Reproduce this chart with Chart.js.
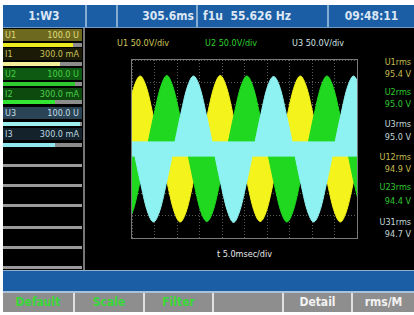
<!DOCTYPE html>
<html>
<head>
<meta charset="utf-8">
<script src="https://cdn.jsdelivr.net/npm/chart.js@4.4.1/dist/chart.umd.min.js"></script>
<style>
body{margin:0;background:#fff;width:414px;height:315px;overflow:hidden;position:relative;
  font-family:"Liberation Sans Narrow","DejaVu Sans Condensed","Liberation Sans",sans-serif;}
.a{position:absolute;white-space:nowrap;}
#scr{left:3px;top:5px;width:411px;height:307px;background:#000;}
#top{left:3px;top:5px;width:411px;height:22px;background:#1b5ea5;border-bottom:1px solid #6f9cc8;}
.tc{top:5px;height:22px;line-height:22px;color:#dbe7f4;font-size:12px;font-weight:bold;}
.vl{width:2px;background:#86acd2;}
.row{left:3px;width:79px;height:12px;line-height:12px;font-size:9px;padding-left:2px;box-sizing:border-box;}
.row span{position:absolute;right:3px;}
.sep{left:3px;width:79px;height:4px;background:#8c8c8c;}
.hdr{top:38px;font-size:9px;line-height:11px;}
.rl{left:370px;width:41px;text-align:right;font-size:9px;line-height:11px;}
.key{top:293px;height:19px;line-height:19px;font-size:12px;font-weight:bold;text-align:center;}
</style>
</head>
<body>
<div class="a" id="scr"></div>

<!-- top status bar -->
<div class="a" id="top"></div>
<div class="a vl" style="left:85px;top:5px;height:22px"></div>
<div class="a vl" style="left:116px;top:5px;height:22px"></div>
<div class="a vl" style="left:196px;top:5px;height:22px"></div>
<div class="a vl" style="left:327px;top:5px;height:22px"></div>
<div class="a tc" style="left:3px;width:82px;text-align:center">1:W3</div>
<div class="a tc" style="left:118px;width:76px;text-align:right">305.6ms</div>
<div class="a tc" style="left:203px">f1u&nbsp;&nbsp;55.626 Hz</div>
<div class="a tc" style="left:329px;width:85px;text-align:center">09:48:11</div>

<!-- left range panel -->
<div class="a" style="left:83px;top:28px;width:2px;height:242px;background:#777"></div>
<div class="a row" style="top:29px;background:#6d6a20;color:#e2dc7a">U1<span>100.0 U</span></div>
<div class="a sep" style="top:43px"></div><div class="a" style="left:3px;top:43px;width:70px;height:4px;background:#eaea1e"></div>
<div class="a row" style="top:48px;background:#1b1a06;color:#c9c25a">I1<span>300.0 mA</span></div>
<div class="a sep" style="top:62px"></div><div class="a" style="left:3px;top:62px;width:57px;height:4px;background:#f2ee9a"></div>
<div class="a row" style="top:68px;background:#0f5a12;color:#45d045">U2<span>100.0 U</span></div>
<div class="a sep" style="top:82px"></div><div class="a" style="left:3px;top:82px;width:72px;height:4px;background:#2fc82f"></div>
<div class="a row" style="top:88px;background:#0c4a0e;color:#4bd04b">I2<span>300.0 mA</span></div>
<div class="a sep" style="top:100px"></div><div class="a" style="left:3px;top:100px;width:52px;height:4px;background:#33e633"></div>
<div class="a row" style="top:107px;background:#2a4456;color:#c6dde6">U3<span>100.0 U</span></div>
<div class="a sep" style="top:122px"></div><div class="a" style="left:3px;top:122px;width:77px;height:4px;background:#9ef0f0"></div>
<div class="a row" style="top:128px;background:#14222b;color:#bcd6e0">I3<span>300.0 mA</span></div>
<div class="a sep" style="top:143px"></div><div class="a" style="left:3px;top:143px;width:52px;height:4px;background:#8fe6ee"></div>
<div class="a sep" style="top:164px;height:3px;background:#9a9a9a"></div>
<div class="a sep" style="top:184px;height:3px;background:#9a9a9a"></div>
<div class="a sep" style="top:204px;height:3px;background:#9a9a9a"></div>
<div class="a sep" style="top:226px;height:3px;background:#9a9a9a"></div>
<div class="a sep" style="top:246px;height:3px;background:#9a9a9a"></div>
<div class="a sep" style="top:266px;height:3px;background:#9a9a9a"></div>

<!-- waveform header -->
<div class="a hdr" style="left:117px;color:#cfc75a">U1 50.0V/div</div>
<div class="a hdr" style="left:205px;color:#2fcf2f">U2 50.0V/div</div>
<div class="a hdr" style="left:292px;color:#cfe2e2">U3 50.0V/div</div>

<!-- plot area -->
<div class="a" style="left:131px;top:59px;width:225px;height:178px;border:1px solid #7a7a7a">
  <canvas id="wave" width="225" height="178" style="display:block"></canvas>
</div>
<div class="a" style="left:132px;top:249px;width:225px;text-align:center;color:#e8e8e8;font-size:9px">t 5.0msec/div</div>

<!-- rms readings -->
<div class="a rl" style="top:57px;color:#c6be4e">U1rms</div>
<div class="a rl" style="top:69px;color:#c6be4e">95.4 V</div>
<div class="a rl" style="top:87px;color:#2ec82e">U2rms</div>
<div class="a rl" style="top:99px;color:#2ec82e">95.0 V</div>
<div class="a rl" style="top:119px;color:#c2d8d8">U3rms</div>
<div class="a rl" style="top:132px;color:#c2d8d8">95.0 V</div>
<div class="a rl" style="top:152px;color:#c6be4e">U12rms</div>
<div class="a rl" style="top:164px;color:#c6be4e">94.9 V</div>
<div class="a rl" style="top:182px;color:#2ec82e">U23rms</div>
<div class="a rl" style="top:196px;color:#2ec82e">94.4 V</div>
<div class="a rl" style="top:217px;color:#c2d8d8">U31rms</div>
<div class="a rl" style="top:229px;color:#c2d8d8">94.7 V</div>

<!-- bottom bars -->
<div class="a" style="left:3px;top:270px;width:411px;height:20px;background:#1b5ea5;border-top:1px solid #8fb2d4;border-bottom:2px solid #a9c2da"></div>
<div class="a" style="left:3px;top:293px;width:411px;height:19px;background:#8e8e8e"></div>
<div class="a vl" style="left:73px;top:293px;height:19px;background:#e0e0e0"></div>
<div class="a vl" style="left:143px;top:293px;height:19px;background:#e0e0e0"></div>
<div class="a vl" style="left:212px;top:293px;height:19px;background:#e0e0e0"></div>
<div class="a vl" style="left:282px;top:293px;height:19px;background:#e0e0e0"></div>
<div class="a vl" style="left:351px;top:293px;height:19px;background:#e0e0e0"></div>
<div class="a key" style="left:3px;width:70px;color:#38d838">Default</div>
<div class="a key" style="left:75px;width:68px;color:#38d838">Scale</div>
<div class="a key" style="left:145px;width:67px;color:#38d838">Filter</div>
<div class="a key" style="left:284px;width:67px;color:#f2f2f2">Detail</div>
<div class="a key" style="left:353px;width:61px;color:#f2f2f2">rms/M</div>

<script>
// sample times (ms) and voltages (V), 50 V/div, 5 ms/div
const timeMs = [-1.16, 0.32, 1.81, 3.29, 4.77, 6.26, 7.74, 9.22, 10.70, 12.19, 13.67, 15.15,
    16.64, 18.12, 19.60, 21.09, 22.57, 24.05, 25.53, 27.02, 28.50, 29.98, 31.47, 32.95,
    34.43, 35.92, 37.40, 38.88, 40.36, 41.85, 43.33, 44.81, 46.30, 47.78, 49.26, 50.75];
const u1 = [72, 136, 164, 136, 72, 0, -72, -136, -164, -136, -72, 0,
    72, 136, 165, 136, 72, 0, -72, -136, -163, -136, -72, 0,
    72, 136, 164, 136, 72, 0, -72, -136, -164, -136, -72, 0];
const u2 = [-164, -136, -72, 0, 72, 136, 165, 136, 72, 0, -72, -136,
    -163, -136, -72, 0, 72, 136, 164, 136, 72, 0, -72, -136,
    -164, -136, -72, 0, 72, 136, 164, 136, 72, 0, -72, -136];
const u3 = [72, 0, -72, -136, -164, -136, -72, 0, 72, 136, 164, 136,
    72, 0, -72, -136, -165, -136, -72, 0, 72, 136, 163, 136,
    72, 0, -72, -136, -164, -136, -72, 0, 72, 136, 164, 136];
// PWM switching band of U3 round zero
const bandTime = [0, 50];
const bandHigh = [16, 16];
const bandLow = [-16, -16];

function pts(xs, ys) {
    return xs.map((x, i) => ({x: x, y: ys[i]}));
}

const ctx = document.getElementById('wave').getContext('2d');

new Chart(ctx, {
    type: 'line',
    data: {
        datasets: [
            {   // 0
                label: 'U3',
                data: pts(timeMs, u3),
                borderColor: '#8ef2f2',
                backgroundColor: '#8ef2f2',
                fill: 'origin',
                order: 0
            },
            {   // 1
                label: 'U3 band',
                data: pts(bandTime, bandHigh),
                borderColor: '#8ef2f2',
                backgroundColor: '#8ef2f2',
                fill: '+1',
                tension: 0,
                order: 1
            },
            {   // 2
                label: 'U3 band low',
                data: pts(bandTime, bandLow),
                borderColor: '#8ef2f2',
                backgroundColor: '#8ef2f2',
                fill: false,
                tension: 0,
                order: 1
            },
            {   // 3
                label: 'U2',
                data: pts(timeMs, u2),
                borderColor: '#1fd81f',
                backgroundColor: '#1fd81f',
                fill: 'origin',
                order: 2
            },
            {   // 4
                label: 'U1',
                data: pts(timeMs, u1),
                borderColor: '#f4f41c',
                backgroundColor: '#f4f41c',
                fill: 'origin',
                order: 3
            }
        ]
    },
    options: {
        responsive: false,
        animation: false,
        events: [],
        elements: {
            point: { radius: 0 },
            line: { borderWidth: 1, cubicInterpolationMode: 'monotone' }
        },
        layout: { padding: 0 },
        plugins: {
            legend: { display: false },
            tooltip: { enabled: false }
        },
        scales: {
            x: {
                type: 'linear',
                min: 0,
                max: 50,
                ticks: { display: false, stepSize: 5 },
                grid: { color: 'rgba(130,130,130,0.7)', drawTicks: false },
                border: { display: false, dash: [1, 2] }
            },
            y: {
                min: -200,
                max: 200,
                ticks: { display: false, stepSize: 50 },
                grid: { color: 'rgba(130,130,130,0.7)', drawTicks: false },
                border: { display: false, dash: [1, 2] }
            }
        }
    }
});
</script>
</body>
</html>
